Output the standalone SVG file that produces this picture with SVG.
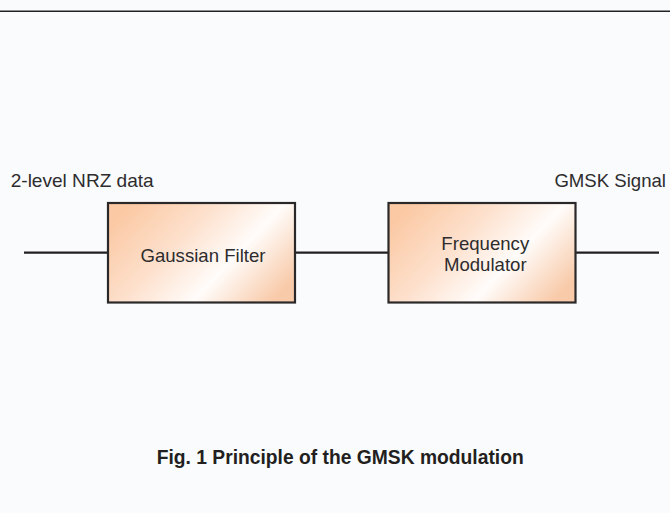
<svg xmlns="http://www.w3.org/2000/svg" width="670" height="513" viewBox="0 0 670 513">
<defs>
<linearGradient id="peach" x1="0" y1="0.25" x2="1" y2="0.75">
<stop offset="0" stop-color="#fbc9a4"/>
<stop offset="0.35" stop-color="#fde0cc"/>
<stop offset="0.66" stop-color="#fffcfa"/>
<stop offset="1" stop-color="#f8caa9"/>
</linearGradient>
<style>
.box{fill:url(#peach);stroke:#2a2829;stroke-width:2.2}
.wire{stroke:#231f20;stroke-width:2.2;fill:none}
.lbl{font-family:"Liberation Sans",Arial,sans-serif;font-size:18.6px;fill:#2e2c2d}
.cap{font-family:"Liberation Sans Narrow","Liberation Sans",Arial,sans-serif;font-weight:bold;font-size:19.5px;fill:#231f20}
</style>
</defs>
<rect width="670" height="513" fill="#f9fbfd"/>
<line x1="0" y1="11.3" x2="670" y2="11.3" stroke="#222" stroke-width="1.4"/>
<g id="connectors">
<line class="wire" x1="24" y1="252.7" x2="108" y2="252.7"/>
<line class="wire" x1="295" y1="252.7" x2="388" y2="252.7"/>
<line class="wire" x1="576" y1="252.7" x2="659" y2="252.7"/>
</g>
<g id="input-label">
<text class="lbl" x="10.7" y="186.7" textLength="143" lengthAdjust="spacingAndGlyphs">2-level NRZ data</text>
</g>
<g id="output-label">
<text class="lbl" x="666" y="186.7" text-anchor="end">GMSK Signal</text>
</g>
<g id="gaussian-filter">
<rect class="box" x="108" y="203" width="187" height="99.5"/>
<text class="lbl" x="203" y="261.7" text-anchor="middle">Gaussian Filter</text>
</g>
<g id="frequency-modulator">
<rect class="box" x="388.5" y="203" width="187" height="99.5"/>
<text class="lbl" x="485.3" y="250" text-anchor="middle">Frequency</text>
<text class="lbl" x="485.3" y="271" text-anchor="middle">Modulator</text>
</g>
<g id="caption">
<text class="cap" x="156.7" y="463.5" textLength="367" lengthAdjust="spacingAndGlyphs">Fig. 1 Principle of the GMSK modulation</text>
</g>
</svg>
